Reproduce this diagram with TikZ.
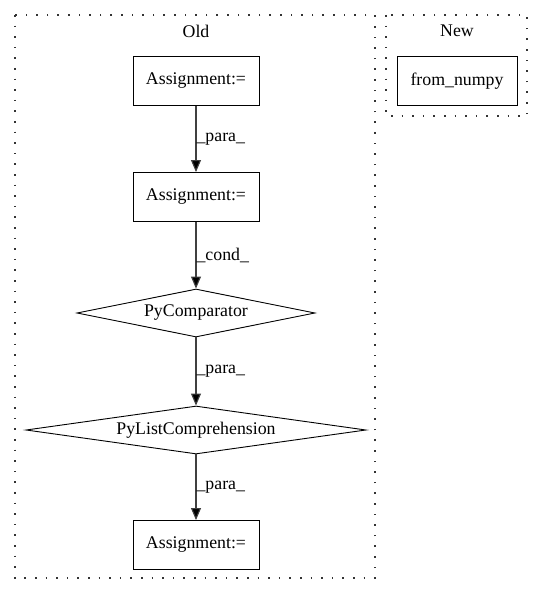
\documentclass[tikz,border=0pt]{standalone}
\usepackage{fontspec}
\setmainfont{Liberation Serif}
\usetikzlibrary{shapes.geometric,arrows.meta}
\begin{document}
\begin{tikzpicture}[x=1pt,y=-1pt,
  txt/.style={font=\fontsize{17.8}{20}\selectfont},
  box/.style={draw,line width=0.9pt,minimum width=126pt,minimum height=49pt,inner sep=0pt,txt},
  dia/.style={draw,diamond,line width=0.9pt,aspect=7,minimum height=48pt,inner sep=0pt,txt},
  cluster/.style={draw=black!80,line width=1.3pt,dash pattern=on 1.6pt off 9pt},
  edge/.style={draw=black!75,line width=1.1pt,-{Triangle[length=12pt,width=10pt,fill=black]}},
  lbl/.style={txt,anchor=west,inner sep=0pt}]
\useasboundingbox (0,0) rectangle (544,596);
\draw[cluster] (15,15) rectangle (375,578);
\draw[cluster] (386,15) rectangle (527,116);
\node[txt] (old) at (196,31) {Old};
\node[txt] (new) at (457,31) {New};
\node[box] (a1) at (196,81) {Assignment:=};
\node[box,minimum width=120pt] (fn) at (457,81) {from\_numpy};
\node[box] (a2) at (196,197) {Assignment:=};
\node[dia,minimum width=238pt] (pc) at (196,313) {PyComparator};
\node[dia,minimum width=340pt] (plc) at (196,430) {PyListComprehension};
\node[box] (a3) at (196,545) {Assignment:=};
\draw[edge] (a1) -- node[lbl,pos=0.5] {\_para\_} (a2);
\draw[edge] (a2) -- node[lbl,pos=0.5] {\_cond\_} (pc);
\draw[edge] (pc) -- node[lbl,pos=0.5] {\_para\_} (plc);
\draw[edge] (plc) -- node[lbl,pos=0.5] {\_para\_} (a3);
\end{tikzpicture}
\end{document}
